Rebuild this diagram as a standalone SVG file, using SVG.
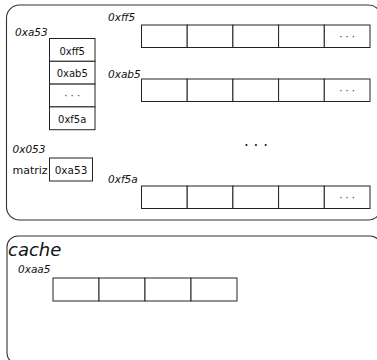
<svg xmlns="http://www.w3.org/2000/svg" width="377" height="360" viewBox="0 0 377 360">
  <style>
    .frame { fill: none; stroke: #333; stroke-width: 1.1; }
    .cell { fill: #fff; stroke: #222; stroke-width: 1; }
    .addr { font-family: "DejaVu Sans", sans-serif; font-style: italic; font-size: 10.5px; fill: #111; }
    .val { font-family: "DejaVu Sans", sans-serif; font-size: 10px; fill: #111; text-anchor: middle; }
    .lbl { font-family: "DejaVu Sans", sans-serif; font-size: 11px; fill: #111; }
    .title { font-family: "DejaVu Sans", sans-serif; font-style: italic; font-size: 18px; fill: #111; }
    .dots { font-family: "DejaVu Sans", sans-serif; font-size: 10px; fill: #333; text-anchor: middle; }
    .bigdots { font-family: "DejaVu Sans", sans-serif; font-size: 15px; fill: #111; text-anchor: middle; }
  </style>
  <defs>
    <!-- one row of five cells, last cell holds an ellipsis -->
    <g id="row5">
      <rect class="cell" x="0" y="0" width="45.7" height="22.5"/>
      <rect class="cell" x="45.7" y="0" width="45.7" height="22.5"/>
      <rect class="cell" x="91.4" y="0" width="45.7" height="22.5"/>
      <rect class="cell" x="137.1" y="0" width="45.7" height="22.5"/>
      <rect class="cell" x="182.8" y="0" width="45.7" height="22.5"/>
      <text class="dots" x="205.6" y="14.6">· · ·</text>
    </g>
  </defs>

  <!-- main memory frame -->
  <rect id="memory" class="frame" x="6.5" y="5" width="375" height="215" rx="13"/>

  <!-- pointer column at 0xa53 -->
  <g id="col-a53">
    <text class="addr" x="15" y="36">0xa53</text>
    <rect class="cell" x="49.5" y="38.5" width="45.5" height="22.8"/>
    <rect class="cell" x="49.5" y="61.3" width="45.5" height="22.8"/>
    <rect class="cell" x="49.5" y="84.1" width="45.5" height="22.8"/>
    <rect class="cell" x="49.5" y="106.9" width="45.5" height="22.8"/>
    <text class="val" x="72.2" y="54.5">0xff5</text>
    <text class="val" x="72.2" y="77.3">0xab5</text>
    <text class="dots" x="72.2" y="98.5">· · ·</text>
    <text class="val" x="72.2" y="122.9">0xf5a</text>
  </g>

  <!-- variable matriz at 0x053 -->
  <g id="matriz">
    <text class="addr" x="12.5" y="153">0x053</text>
    <text class="lbl" x="12.5" y="174">matriz</text>
    <rect class="cell" x="49.5" y="158" width="43" height="23"/>
    <text class="val" x="71" y="173.5" style="font-size:10.5px">0xa53</text>
  </g>

  <!-- row arrays -->
  <g id="row-ff5">
    <text class="addr" x="108" y="21">0xff5</text>
    <use href="#row5" x="141.5" y="25"/>
  </g>
  <g id="row-ab5">
    <text class="addr" x="108" y="78">0xab5</text>
    <use href="#row5" x="141.5" y="79"/>
  </g>
  <text class="bigdots" x="256" y="151">· · ·</text>
  <g id="row-f5a">
    <text class="addr" x="108" y="183">0xf5a</text>
    <use href="#row5" x="141.5" y="186"/>
  </g>

  <!-- cache frame -->
  <g id="cache">
    <rect class="frame" x="7" y="236" width="374" height="128" rx="11"/>
    <text class="title" x="8" y="256">cache</text>
    <text class="addr" x="18" y="273">0xaa5</text>
    <rect class="cell" x="53" y="278" width="46" height="23"/>
    <rect class="cell" x="99" y="278" width="46" height="23"/>
    <rect class="cell" x="145" y="278" width="46" height="23"/>
    <rect class="cell" x="191" y="278" width="46" height="23"/>
  </g>

  <g id="connectors"/>
</svg>
